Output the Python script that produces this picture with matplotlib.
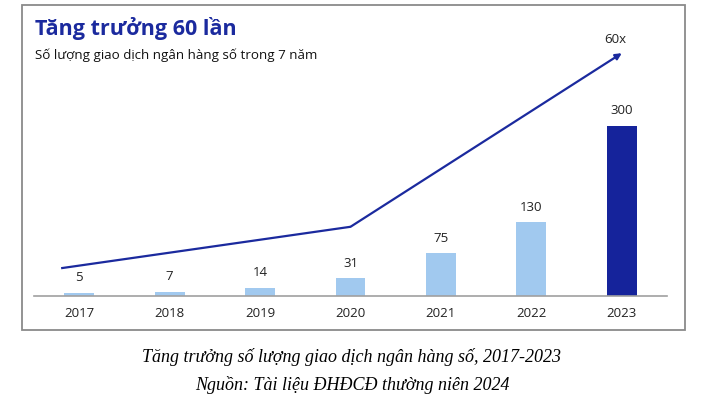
import matplotlib.pyplot as plt
from matplotlib.patches import Rectangle

# Données
annees = ["2017", "2018", "2019", "2020", "2021", "2022", "2023"]
valeurs = [5, 7, 14, 31, 75, 130, 300]
couleurs = ["#a1c9ef"] * 6 + ["#15239b"]

# ligne de tendance (flèche 60x)
tendance_x = [-0.2, 3, 6]
tendance_y = [49, 122, 428]

BLEU = "#1b2a9e"

plt.rcParams['font.family'] = ['Open Sans', 'DejaVu Sans']

fig = plt.figure(figsize=(7.04, 4.06), dpi=100)
W, H = 704, 406

# cadre gris
fig.patches.append(Rectangle((22 / W, 1 - 331 / H), (685 - 22) / W, (331 - 6) / H,
                             transform=fig.transFigure, fill=False,
                             edgecolor="#8a8a8a", linewidth=1.3))

ax = fig.add_axes([34 / W, 1 - 297 / H, (667 - 34) / W, (297 - 40) / H])
x = range(len(annees))
barres = ax.bar(x, valeurs, width=0.33, color=couleurs)
for xi, v in zip(x, valeurs):
    ax.annotate(str(v), (xi, v), xytext=(0, 7), textcoords="offset points",
                ha="center", va="bottom", fontsize=9.5, color="#222222")

ax.plot(tendance_x[:2], tendance_y[:2], color=BLEU, lw=1.6, solid_capstyle="butt")
ax.annotate("", xy=(tendance_x[2], tendance_y[2]), xytext=(tendance_x[1], tendance_y[1]),
            arrowprops=dict(arrowstyle="-|>", color=BLEU, lw=1.6,
                            mutation_scale=9, shrinkA=0, shrinkB=0))
ax.annotate("60x", (tendance_x[2], tendance_y[2]), xytext=(-5, 6), textcoords="offset points",
            ha="center", va="bottom", fontsize=9.5, color="#222222")

ax.set_xlim(-0.5, 6.5)
ax.set_ylim(0, 453)
ax.set_xticks(list(x))
ax.set_xticklabels(annees, fontsize=9.5, color="#222222")
ax.tick_params(axis="x", length=0, pad=7)
ax.set_yticks([])
for s in ["top", "right", "left"]:
    ax.spines[s].set_visible(False)
ax.spines["bottom"].set_color("#a0a0a0")
ax.spines["bottom"].set_linewidth(1.2)

fig.text(35 / W, 1 - 29 / H, "Tăng trưởng 60 lần", fontsize=15.5, fontweight="bold",
         color=BLEU, va="center", ha="left")
fig.text(35 / W, 1 - 55 / H, "Số lượng giao dịch ngân hàng số trong 7 năm", fontsize=9.6,
         color="#111111", va="center", ha="left")

fig.text(352 / W, 1 - 357 / H, "Tăng trưởng số lượng giao dịch ngân hàng số, 2017-2023",
         family="Liberation Serif", style="italic", fontsize=13, ha="center", va="center")
fig.text(352 / W, 1 - 385 / H, "Nguồn: Tài liệu ĐHĐCĐ thường niên 2024",
         family="Liberation Serif", style="italic", fontsize=13, ha="center", va="center")

fig.savefig("out.png", dpi=100)
